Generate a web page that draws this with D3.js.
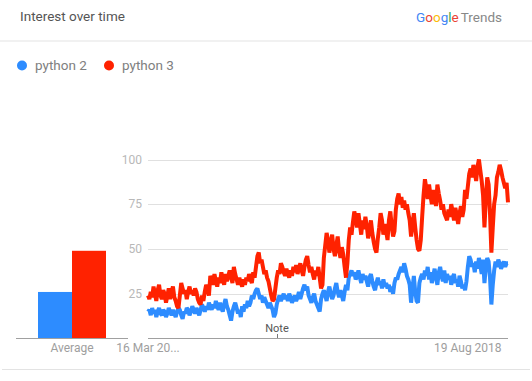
<!DOCTYPE html>
<html>
<head>
<meta charset="utf-8">
<script src="https://cdn.jsdelivr.net/npm/d3@7"></script>
<style>
  html, body { margin: 0; padding: 0; background: #fff; }
  svg { display: block; font-family: Roboto, "Noto Sans", Arial, sans-serif; }
</style>
</head>
<body>
<svg id="chart" width="532" height="381"></svg>
<script>
// ---------- data ----------
const seriesNames = ["python 2", "python 3"];
const seriesColors = ["#2d8cff", "#ff2200"];
const averages = [26, 49];
const startDate = "2014-03-16"; // weekly points
const yTicks = [25, 50, 75, 100];
const xTickLabels = ["16 Mar 20...", "19 Aug 2018"];
const xTickDates = ["2014-03-16", "2018-08-19"];

const python2 = [
 15,16,13,17,14,16,12,15,17,14,
 13,16,15,12,14,17,15,13,16,14,
 12,15,17,16,13,11,15,14,17,16,
 13,15,18,16,14,17,15,13,16,19,
 17,15,18,16,20,18,16,19,17,21,
 18,16,20,17,15,19,22,18,16,13,
 10,15,18,20,17,14,16,12,18,15,
 19,17,21,18,20,24,22,25,27,28,
 25,22,24,20,23,21,19,17,20,18,
 16,12,14,19,22,24,21,23,25,22,
 24,21,25,23,20,22,24,21,23,26,
 22,25,28,30,27,29,24,22,20,23,
 25,21,19,17,15,22,25,27,24,21,
 26,29,25,22,24,28,31,26,23,27,
 24,21,26,30,27,34,36,38,35,37,
 33,35,38,34,31,36,33,35,32,29,
 34,36,32,29,27,31,34,30,32,28,
 33,29,31,28,30,26,29,25,31,34,
 33,36,38,40,37,42,39,35,33,30,
 20,28,35,26,21,20,31,34,36,33,
 38,35,40,33,37,31,35,39,34,30,
 37,40,35,32,38,31,36,33,35,30,
 34,36,31,33,29,35,32,28,30,27,
 32,40,46,44,40,42,37,43,39,45,
 41,36,44,31,40,45,43,34,19,30,
 38,43,40,44,42,39,41,43,40,42,42
];
const python3 = [
 24,22,26,23,29,25,21,27,30,24,
 22,27,25,20,24,28,22,26,29,23,
 21,18,17,24,31,28,25,27,22,26,
 29,25,27,24,28,26,22,20,19,24,
 21,26,30,28,24,35,33,30,36,32,
 29,34,31,37,33,30,36,32,35,38,
 34,31,40,36,33,30,34,31,29,33,
 30,34,32,36,33,31,37,34,40,46,
 48,42,44,40,36,38,34,32,28,24,
 21,22,28,34,38,36,42,40,37,35,
 39,36,34,38,35,40,37,41,36,39,
 42,38,35,40,44,46,41,37,40,36,
 33,38,35,40,34,28,30,45,52,59,
 55,48,53,58,50,46,52,57,49,45,
 51,47,40,34,42,55,62,58,65,71,
 67,62,70,64,58,66,61,68,63,56,
 60,66,59,54,50,48,56,62,70,66,
 58,64,60,55,66,71,63,57,60,72,
 78,81,75,79,73,77,72,75,70,66,
 57,64,70,62,55,50,49,55,68,80,
 89,84,78,86,80,75,83,79,74,86,
 81,77,72,75,70,68,66,72,68,75,
 71,66,73,69,64,70,74,68,72,83,
 78,85,92,95,90,97,93,88,96,100,
 94,88,80,62,78,90,86,70,48,62,
 75,80,90,93,97,94,90,87,84,87,76
];

// ---------- layout ----------
const svg = d3.select("#chart");
const W = 532;
const plot = { left: 148, right: 508, top: 159.5, bottom: 338.5 };

const parse = d3.utcParse("%Y-%m-%d");
const t0 = parse(startDate);
const dates = python2.map((_, i) => d3.utcWeek.offset(t0, i));

const x = d3.scaleUtc()
  .domain([dates[0], dates[dates.length - 1]])
  .range([plot.left, plot.right]);
const y = d3.scaleLinear().domain([0, 100]).range([plot.bottom, plot.top]);

// header
svg.append("text").attr("x", 20).attr("y", 21)
  .attr("font-size", 13.5).attr("fill", "#555").text("Interest over time");

const logo = svg.append("text").attr("x", 502).attr("y", 22)
  .attr("text-anchor", "end").attr("font-size", 13.5);
const gLetters = [["G","#4285f4"],["o","#ea4335"],["o","#fbbc05"],["g","#4285f4"],["l","#34a853"],["e","#ea4335"]];
gLetters.forEach(([c, col]) => logo.append("tspan").attr("fill", col).text(c));
logo.append("tspan").attr("fill", "#888").attr("dx", 2).text("Trends");

svg.append("line").attr("x1", 0).attr("x2", W).attr("y1", 41).attr("y2", 41)
  .attr("stroke", "#e3e3e3").attr("stroke-width", 1);

// legend
const legendX = [22, 109];
seriesNames.forEach((name, i) => {
  svg.append("circle").attr("cx", legendX[i]).attr("cy", 65.5).attr("r", 5)
    .attr("fill", seriesColors[i]);
  svg.append("text").attr("x", legendX[i] + 13).attr("y", 70)
    .attr("font-size", 13.5).attr("fill", "#808080").text(name);
});

// gridlines + y labels
yTicks.forEach(t => {
  svg.append("line").attr("x1", plot.left).attr("x2", plot.right)
    .attr("y1", Math.round(y(t)) + 0.5).attr("y2", Math.round(y(t)) + 0.5)
    .attr("stroke", "#e0e0e0").attr("stroke-width", 1);
  svg.append("text").attr("x", 142).attr("y", y(t)).attr("dy", "0.35em")
    .attr("text-anchor", "end").attr("font-size", 12).attr("fill", "#b8b8b8")
    .text(t);
});

// average bars
const xb = d3.scaleBand().domain(seriesNames).range([38, 106]).padding(0);
svg.selectAll("rect.avg").data(averages).join("rect")
  .attr("class", "avg")
  .attr("x", (d, i) => xb(seriesNames[i]))
  .attr("width", xb.bandwidth())
  .attr("y", d => y(d))
  .attr("height", d => y(0) - y(d))
  .attr("fill", (d, i) => seriesColors[i]);

// axes baselines
svg.append("line").attr("x1", 16).attr("x2", 128).attr("y1", 338.5).attr("y2", 338.5)
  .attr("stroke", "#a0a0a0");
svg.append("line").attr("x1", plot.left).attr("x2", plot.right).attr("y1", 338.5).attr("y2", 338.5)
  .attr("stroke", "#a0a0a0");

// lines
const line = d3.line().x((d, i) => x(dates[i])).y(d => y(d)).curve(d3.curveLinear);
[python2, python3].forEach((s, i) => {
  svg.append("path").datum(s).attr("d", line)
    .attr("fill", "none").attr("stroke", seriesColors[i])
    .attr("stroke-width", 4).attr("stroke-linejoin", "miter").attr("stroke-miterlimit", 2)
    .attr("stroke-linecap", "butt");
});

// x labels
svg.append("text").attr("x", 72).attr("y", 352).attr("text-anchor", "middle")
  .attr("font-size", 12).attr("fill", "#9e9e9e").text("Average");
xTickLabels.forEach((lab, i) => {
  svg.append("text").attr("x", x(parse(xTickDates[i]))).attr("y", 352)
    .attr("text-anchor", "middle").attr("font-size", 12).attr("fill", "#9e9e9e").text(lab);
});

// note marker
const noteX = 277;
svg.append("line").attr("x1", noteX + 0.5).attr("x2", noteX + 0.5).attr("y1", 334).attr("y2", 338)
  .attr("stroke", "#777");
svg.append("text").attr("x", noteX).attr("y", 332).attr("text-anchor", "middle")
  .attr("font-size", 11).attr("fill", "#555").text("Note");

// bottom separator
svg.append("line").attr("x1", 2).attr("x2", 530).attr("y1", 369.5).attr("y2", 369.5)
  .attr("stroke", "#e3e3e3");
</script>
</body>
</html>
